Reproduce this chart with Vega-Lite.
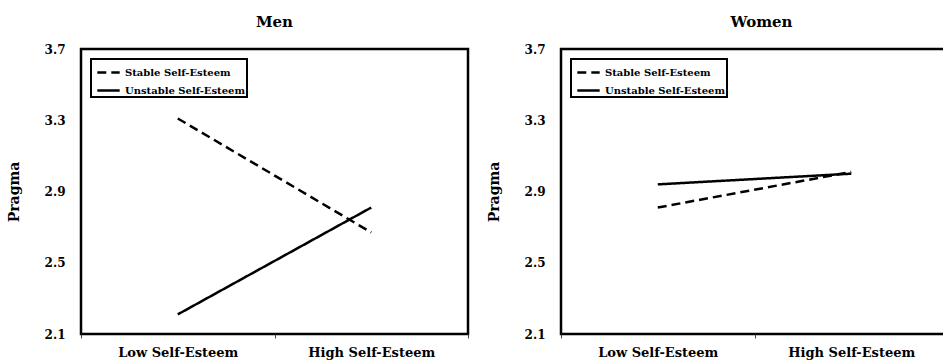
{
  "$schema": "https://vega.github.io/schema/vega-lite/v6.json",
  "background": "white",
  "padding": {"left": 5, "top": 13, "right": 0, "bottom": 0},
  "datasets": {
    "men": [
      {"level": "Low Self-Esteem", "series": "Stable Self-Esteem", "pragma": 3.31},
      {"level": "High Self-Esteem", "series": "Stable Self-Esteem", "pragma": 2.67},
      {"level": "Low Self-Esteem", "series": "Unstable Self-Esteem", "pragma": 2.21},
      {"level": "High Self-Esteem", "series": "Unstable Self-Esteem", "pragma": 2.81}
    ],
    "women": [
      {"level": "Low Self-Esteem", "series": "Stable Self-Esteem", "pragma": 2.81},
      {"level": "High Self-Esteem", "series": "Stable Self-Esteem", "pragma": 3.01},
      {"level": "Low Self-Esteem", "series": "Unstable Self-Esteem", "pragma": 2.94},
      {"level": "High Self-Esteem", "series": "Unstable Self-Esteem", "pragma": 3.0}
    ]
  },
  "spacing": 15,
  "resolve": {"legend": {"strokeDash": "independent"}},
  "hconcat": [
    {
      "title": {"text": "Men"},
      "width": 387,
      "height": 285,
      "data": {"name": "men"},
      "mark": {"type": "line", "stroke": "black", "strokeWidth": 2.5},
      "encoding": {
        "x": {
          "field": "level", "type": "nominal",
          "sort": ["Low Self-Esteem", "High Self-Esteem"],
          "scale": {"type": "band", "paddingInner": 0, "paddingOuter": 0},
          "axis": {"title": null}
        },
        "y": {
          "field": "pragma", "type": "quantitative",
          "scale": {"domain": [2.1, 3.7], "nice": false, "zero": false},
          "axis": {"title": "Pragma", "values": [2.1, 2.5, 2.9, 3.3, 3.7], "format": ".1f"}
        },
        "strokeDash": {
          "field": "series", "type": "nominal",
          "scale": {"domain": ["Stable Self-Esteem", "Unstable Self-Esteem"], "range": [[9, 5], [1, 0]]},
          "legend": {"title": null}
        }
      }
    },
    {
      "title": {"text": "Women", "dx": 7},
      "width": 387,
      "height": 285,
      "data": {"name": "women"},
      "mark": {"type": "line", "stroke": "black", "strokeWidth": 2.5},
      "encoding": {
        "x": {
          "field": "level", "type": "nominal",
          "sort": ["Low Self-Esteem", "High Self-Esteem"],
          "scale": {"type": "band", "paddingInner": 0, "paddingOuter": 0},
          "axis": {"title": null}
        },
        "y": {
          "field": "pragma", "type": "quantitative",
          "scale": {"domain": [2.1, 3.7], "nice": false, "zero": false},
          "axis": {"title": "Pragma", "values": [2.1, 2.5, 2.9, 3.3, 3.7], "format": ".1f"}
        },
        "strokeDash": {
          "field": "series", "type": "nominal",
          "scale": {"domain": ["Stable Self-Esteem", "Unstable Self-Esteem"], "range": [[9, 5], [1, 0]]},
          "legend": {"title": null}
        }
      }
    }
  ],
  "config": {
    "view": {"stroke": "black", "strokeWidth": 2.5},
    "font": "DejaVu Serif",
    "title": {"font": "DejaVu Serif", "fontSize": 15, "fontWeight": "bold", "color": "black", "baseline": "alphabetic", "offset": 13, "anchor": "middle", "frame": "group"},
    "axisX": {
      "labelFont": "DejaVu Serif", "labelFontSize": 13, "labelFontWeight": "bold", "labelColor": "black",
      "labelAngle": 0, "domain": false, "ticks": true, "tickBand": "extent", "tickSize": 4, "tickColor": "#444", "tickWidth": 1,
      "labelPadding": 8, "labelBaseline": "top", "grid": false
    },
    "axisY": {
      "labelFont": "DejaVu Serif", "labelFontSize": 12, "labelFontWeight": "bold", "labelColor": "black",
      "labelFlush": false,
      "domain": false, "ticks": false, "grid": false, "labelPadding": 16,
      "titleFont": "DejaVu Serif", "titleFontSize": 14, "titleFontWeight": "bold", "titleColor": "black", "titlePadding": 23
    },
    "legend": {
      "orient": "top-left", "offset": 10,
      "strokeColor": "black", "strokeWidth": 2, "padding": 1, "fillColor": "white",
      "symbolType": "stroke", "symbolSize": 500, "symbolStrokeColor": "black", "symbolStrokeWidth": 2.5, "symbolOffset": 4,
      "labelFont": "DejaVu Serif", "labelFontSize": 10, "labelFontWeight": "bold", "labelColor": "black",
      "labelOffset": 4, "rowPadding": -2, "labelLimit": 300
    }
  }
}
